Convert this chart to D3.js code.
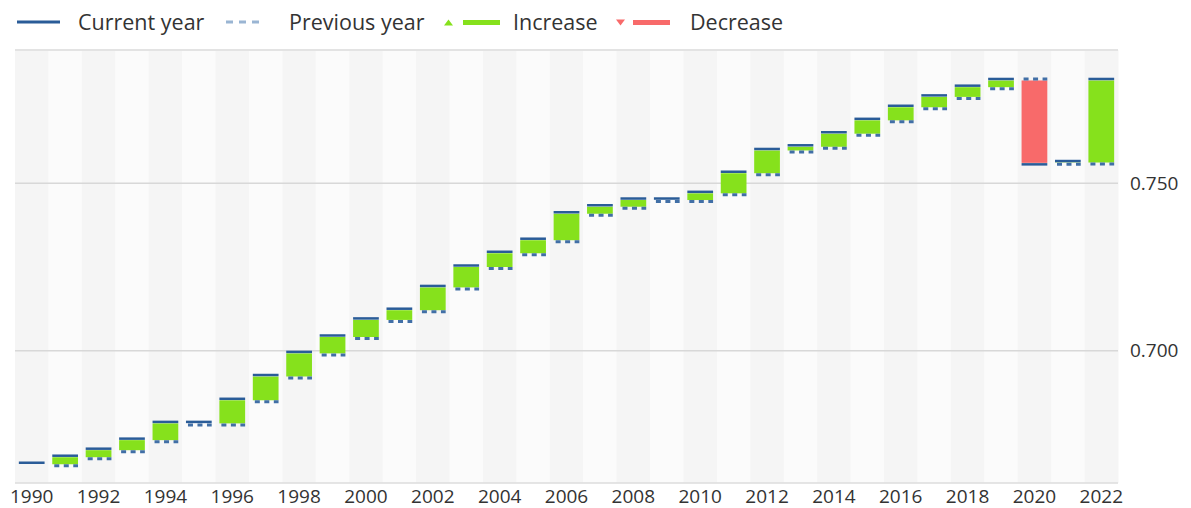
<!DOCTYPE html>
<html>
<head>
<meta charset="utf-8">
<script src="https://cdn.jsdelivr.net/npm/d3@7"></script>
<style>
  body { margin: 0; background: #fff; }
  text { font-family: "Open Sans", sans-serif; fill: #333; }
</style>
</head>
<body>
<svg width="1191" height="508"></svg>
<script>
var years = [1990, 1991, 1992, 1993, 1994, 1995, 1996, 1997, 1998, 1999, 2000,
  2001, 2002, 2003, 2004, 2005, 2006, 2007, 2008, 2009, 2010, 2011, 2012,
  2013, 2014, 2015, 2016, 2017, 2018, 2019, 2020, 2021, 2022];

var values = [0.6661, 0.6682, 0.6703, 0.6733, 0.6783, 0.6783, 0.6852, 0.6923,
  0.6992, 0.7041, 0.7092, 0.7121, 0.7189, 0.7250, 0.7291, 0.7330, 0.7409,
  0.7430, 0.7450, 0.7450, 0.7470, 0.7530, 0.7598, 0.7609, 0.7648, 0.7688,
  0.7727, 0.7758, 0.7787, 0.7807, 0.7561, 0.7562, 0.7807];

var yTicks = [0.700, 0.750];
var legendItems = ["Current year", "Previous year", "Increase", "Decrease"];

var svg = d3.select("svg"),
    plotLeft = 15, plotRight = 1118, plotTop = 50, plotBottom = 483;

var x = d3.scaleBand().domain(years).range([plotLeft, plotRight]).paddingInner(0).paddingOuter(0);
var y = d3.scaleLinear().domain([0.6605, 0.7898]).range([plotBottom, plotTop]);

var barW = x.bandwidth() * 0.77;

// alternating column bands
svg.append("g").selectAll("rect")
  .data(years)
  .enter().append("rect")
    .attr("x", function(d) { return x(d); })
    .attr("y", plotTop)
    .attr("width", x.bandwidth() + 0.5)
    .attr("height", plotBottom - plotTop)
    .attr("fill", function(d, i) { return i % 2 == 0 ? "#f5f5f5" : "#fbfbfb"; });

// gridlines
svg.append("line").attr("x1", plotLeft).attr("x2", plotRight).attr("y1", plotTop).attr("y2", plotTop)
  .attr("stroke", "#e3e3e3").attr("stroke-width", 2);
svg.append("g").selectAll("line")
  .data(yTicks)
  .enter().append("line")
    .attr("x1", plotLeft).attr("x2", plotRight)
    .attr("y1", function(d) { return y(d); })
    .attr("y2", function(d) { return y(d); })
    .attr("stroke", "#d8d8d8").attr("stroke-width", 1.5);
svg.append("line").attr("x1", plotLeft).attr("x2", plotRight).attr("y1", plotBottom).attr("y2", plotBottom)
  .attr("stroke", "#dcdcdc").attr("stroke-width", 1.5);

var data = years.map(function(yr, i) {
  return { year: yr, cur: values[i], prev: i > 0 ? values[i - 1] : null };
});
var changes = data.filter(function(d) { return d.prev != null; });

// waterfall bars
svg.append("g").selectAll("rect")
  .data(changes)
  .enter().append("rect")
    .attr("x", function(d) { return x(d.year) + (x.bandwidth() - barW) / 2; })
    .attr("width", barW)
    .attr("y", function(d) { return y(Math.max(d.cur, d.prev)); })
    .attr("height", function(d) { return Math.abs(y(d.cur) - y(d.prev)); })
    .attr("fill", function(d) { return d.cur >= d.prev ? "#86e11c" : "#f86a6a"; });

// previous year dashes
svg.append("g").selectAll("line")
  .data(changes)
  .enter().append("line")
    .attr("x1", function(d) { return x(d.year) + (x.bandwidth() - barW) / 2 + 2; })
    .attr("x2", function(d) { return x(d.year) + (x.bandwidth() + barW) / 2; })
    .attr("y1", function(d) { return y(d.prev) + (d.cur >= d.prev ? 1.5 : -1.5); })
    .attr("y2", function(d) { return y(d.prev) + (d.cur >= d.prev ? 1.5 : -1.5); })
    .attr("stroke", "#416fa6").attr("stroke-width", 3)
    .attr("stroke-dasharray", "5,4.5");

// current year lines
svg.append("g").selectAll("line")
  .data(data)
  .enter().append("line")
    .attr("x1", function(d) { return x(d.year) + (x.bandwidth() - barW) / 2; })
    .attr("x2", function(d) { return x(d.year) + (x.bandwidth() + barW) / 2; })
    .attr("y1", function(d) { return y(d.cur) + (d.prev == null || d.cur >= d.prev ? -1.5 : 1.5); })
    .attr("y2", function(d) { return y(d.cur) + (d.prev == null || d.cur >= d.prev ? -1.5 : 1.5); })
    .attr("stroke", "#2a5c98").attr("stroke-width", 2.5);

// axes
var xAxis = svg.append("g")
  .attr("transform", "translate(0," + plotBottom + ")")
  .call(d3.axisBottom(x).tickValues(years.filter(function(d) { return d % 2 == 0; })).tickSize(0).tickPadding(6));
xAxis.select(".domain").remove();
xAxis.selectAll("text").style("font-size", "19px").style("font-family", "Open Sans").attr("fill", "#333");

var yAxis = svg.append("g")
  .attr("transform", "translate(" + (plotRight + 10) + ",0)")
  .call(d3.axisRight(y).tickValues(yTicks).tickFormat(d3.format(".3f")).tickSize(0).tickPadding(2));
yAxis.select(".domain").remove();
yAxis.selectAll("text").style("font-size", "19px").style("font-family", "Open Sans").attr("fill", "#333");

// legend
var lg = svg.append("g");
lg.append("line").attr("x1", 17).attr("x2", 60).attr("y1", 22).attr("y2", 22)
  .attr("stroke", "#2a5c98").attr("stroke-width", 3);
lg.append("line").attr("x1", 226).attr("x2", 264).attr("y1", 22).attr("y2", 22)
  .attr("stroke", "#9ab5d3").attr("stroke-width", 3).attr("stroke-dasharray", "7,6");
lg.append("path").attr("d", "M444,25.5 L448.5,19.5 L453,25.5 Z").attr("fill", "#86e11c");
lg.append("rect").attr("x", 463).attr("y", 20).attr("width", 37).attr("height", 5).attr("fill", "#86e11c");
lg.append("path").attr("d", "M616,19.5 L625,19.5 L620.5,25.5 Z").attr("fill", "#f86a6a");
lg.append("rect").attr("x", 633).attr("y", 20).attr("width", 37).attr("height", 5).attr("fill", "#f86a6a");

var legendX = [78, 289, 513, 690];
lg.selectAll("text.lab")
  .data(legendItems)
  .enter().append("text")
    .attr("class", "lab")
    .attr("x", function(d, i) { return legendX[i]; })
    .attr("y", 30)
    .style("font-size", "21.5px")
    .text(function(d) { return d; });
</script>
</body>
</html>
